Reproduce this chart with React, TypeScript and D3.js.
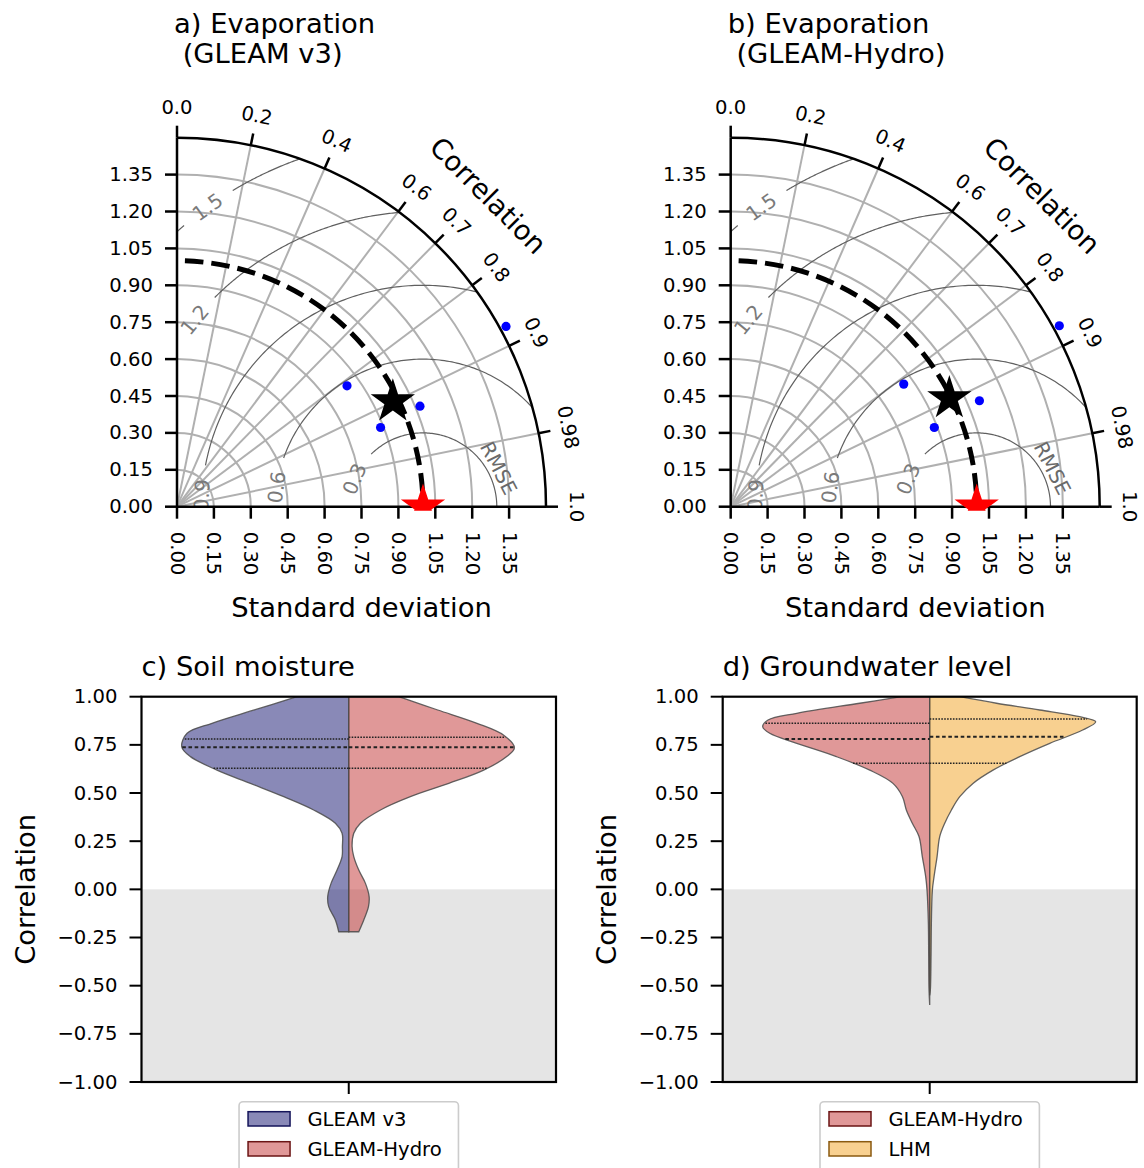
import React, { useEffect } from 'react';
import * as d3 from 'd3';

// ---------------- DATA ----------------
// Taylor diagrams (evaporation)
const stdTickValues = [0, 0.15, 0.3, 0.45, 0.6, 0.75, 0.9, 1.05, 1.2, 1.35];
const stdTickLabels = ['0.00', '0.15', '0.30', '0.45', '0.60', '0.75', '0.90', '1.05', '1.20', '1.35'];
const corrTickValues = [0.0, 0.2, 0.4, 0.6, 0.7, 0.8, 0.9, 0.98, 1.0];
const corrTickLabels = ['0.0', '0.2', '0.4', '0.6', '0.7', '0.8', '0.9', '0.98', '1.0'];
const corrGridValues = [0.2, 0.4, 0.6, 0.7, 0.8, 0.9, 0.98];
const rmseLevels = [0.3, 0.6, 0.9, 1.2, 1.5];
const rmseLabels = ['0.3', '0.6', '0.9', '1.2', '1.5'];
const maxStd = 1.5;
const refStd = 1.0;

const gleamV3Std = [1.525, 0.848, 1.069, 0.888];
const gleamV3Corr = [0.877, 0.815, 0.924, 0.932];
const gleamV3MeanStd = 0.976;
const gleamV3MeanCorr = 0.899;

const gleamHydroStd = [1.525, 0.862, 1.099, 0.888];
const gleamHydroCorr = [0.876, 0.816, 0.92, 0.932];
const gleamHydroMeanStd = 0.992;
const gleamHydroMeanCorr = 0.896;

// Violin plots
const violinTickValues = [1, 0.75, 0.5, 0.25, 0, -0.25, -0.5, -0.75, -1];
const violinTickLabels = ['1.00', '0.75', '0.50', '0.25', '0.00', '\u22120.25', '\u22120.50', '\u22120.75', '\u22121.00'];

const smV3Values = [1.0, 0.931, 0.862, 0.81, 0.74, 0.689, 0.619, 0.55, 0.481, 0.412, 0.343, 0.291, 0.222, 0.17, 0.1, 0.031, -0.038, -0.09, -0.159, -0.22];
const smV3Density = [0.31, 0.565, 0.819, 0.968, 1.0, 0.948, 0.789, 0.589, 0.389, 0.21, 0.08, 0.04, 0.038, 0.04, 0.07, 0.106, 0.126, 0.12, 0.08, 0.06];
const smV3Quartiles = [0.628, 0.737, 0.78];

const smHydroValues = [1.0, 0.931, 0.862, 0.8, 0.735, 0.689, 0.619, 0.55, 0.481, 0.412, 0.343, 0.291, 0.222, 0.17, 0.1, 0.031, -0.038, -0.09, -0.159, -0.22];
const smHydroDensity = [0.3, 0.533, 0.768, 0.928, 0.992, 0.946, 0.808, 0.599, 0.369, 0.19, 0.07, 0.03, 0.02, 0.03, 0.06, 0.1, 0.122, 0.118, 0.09, 0.06];
const smHydroQuartiles = [0.628, 0.737, 0.789];

const gwHydroValues = [1.0, 0.966, 0.914, 0.879, 0.844, 0.81, 0.758, 0.689, 0.619, 0.55, 0.481, 0.412, 0.343, 0.274, 0.169, 0.066, -0.004, -0.176, -0.35, -0.522, -0.6];
const gwHydroDensity = [0.17, 0.419, 0.796, 0.968, 1.0, 0.958, 0.796, 0.559, 0.359, 0.22, 0.163, 0.14, 0.104, 0.064, 0.044, 0.024, 0.016, 0.008, 0.006, 0.004, 0.0];
const gwHydroQuartiles = [0.654, 0.78, 0.862];

const gwLhmValues = [1.0, 0.966, 0.931, 0.896, 0.87, 0.827, 0.758, 0.689, 0.619, 0.55, 0.481, 0.412, 0.343, 0.274, 0.169, 0.066, -0.004, -0.176, -0.35, -0.522, -0.55];
const gwLhmDensity = [0.18, 0.4, 0.659, 0.898, 0.994, 0.916, 0.719, 0.539, 0.379, 0.259, 0.18, 0.13, 0.09, 0.06, 0.044, 0.026, 0.016, 0.01, 0.008, 0.004, 0.0];
const gwLhmQuartiles = [0.654, 0.792, 0.884];

// ---------------- LAYOUT / STYLE ----------------
const FONT = '"DejaVu Sans", Verdana, sans-serif';
const W = 1144;
const H = 1168;
const TICK_FS = 19.6;
const LABEL_FS = 27.4;
const rmseLabelPhiDeg = [157.9, 172.4, 177, 140.7, 125.7];

function starPath(R: number): string {
  return d3.symbol(d3.symbolStar, (R * R) / 0.8908130915292852)() as string;
}

type TaylorProps = {
  id: string;
  ox: number;
  oy: number;
  titleX: number;
  title1: string;
  title2: string;
  stds: number[];
  corrs: number[];
  meanStd: number;
  meanCorr: number;
};

function TaylorPanel(p: TaylorProps) {
  const { id, ox, oy } = p;
  const R = 369;
  const rs = d3.scaleLinear().domain([0, maxStd]).range([0, R]);
  const toXY = (x: number, y: number): [number, number] => [ox + rs(x), oy - rs(y)];
  const polar = (s: number, c: number): [number, number] => {
    const th = Math.acos(c);
    return toXY(s * Math.cos(th), s * Math.sin(th));
  };
  const line = d3.line();

  const stdArcs = stdTickValues.filter((v) => v > 0).map((v) => {
    const pth = d3.path();
    const rr = rs(v);
    pth.moveTo(ox, oy - rr);
    pth.arc(ox, oy, rr, -Math.PI / 2, 0);
    return pth.toString();
  });
  const outer = d3.path();
  outer.moveTo(ox, oy - R);
  outer.arc(ox, oy, R, -Math.PI / 2, 0);
  const refArc = d3.path();
  refArc.moveTo(ox, oy - rs(refStd));
  refArc.arc(ox, oy, rs(refStd), -Math.PI / 2, 0);

  const radial = corrGridValues.map((c) => line([[ox, oy], polar(maxStd, c)]) as string);

  const contourSegs: string[] = [];
  const contourLabels: { x: number; y: number; a: number; t: string }[] = [];
  const normAng = (a: number) => {
    let b = a;
    while (b > 90) b -= 180;
    while (b <= -90) b += 180;
    return b;
  };
  const tangentAng = (phi: number) => normAng((Math.atan2(-Math.cos(phi), -Math.sin(phi)) * 180) / Math.PI);
  rmseLevels.forEach((rho, i) => {
    const phiMin = Math.acos(Math.max(-1, Math.min(1, (maxStd * maxStd - refStd * refStd - rho * rho) / (2 * refStd * rho))));
    const phiMax = Math.acos(Math.max(-1, Math.min(1, -refStd / rho)));
    const phiL = (rmseLabelPhiDeg[i] * Math.PI) / 180;
    const gap = 30 / rs(rho);
    const ranges: [number, number][] = [
      [phiMin, Math.min(phiMax, phiL - gap)],
      [Math.max(phiMin, phiL + gap), phiMax],
    ];
    ranges.forEach(([a, b]) => {
      if (b - a <= 0.002) return;
      const pts = d3.range(0, 121).map((k) => {
        const f = a + ((b - a) * k) / 120;
        return toXY(refStd + rho * Math.cos(f), rho * Math.sin(f));
      });
      contourSegs.push(line(pts) as string);
    });
    const [lx, ly] = toXY(refStd + rho * Math.cos(phiL), rho * Math.sin(phiL));
    contourLabels.push({ x: lx, y: ly, a: tangentAng(phiL), t: rmseLabels[i] });
  });
  const rmseTitlePhi = (27 * Math.PI) / 180;
  const rmseTitleRho = 0.345;
  const [rtx, rty] = toXY(refStd + rmseTitleRho * Math.cos(rmseTitlePhi), rmseTitleRho * Math.sin(rmseTitlePhi));

  const star = starPath(23.3);
  const [mx, my] = polar(p.meanStd, p.meanCorr);
  const [refx, refy] = toXY(refStd, 0);
  const clipId = `quarter-${id}`;
  const clipStar = `starclip-${id}`;
  const disc = d3.path();
  disc.moveTo(ox, oy);
  disc.lineTo(ox, oy - R);
  disc.arc(ox, oy, R, -Math.PI / 2, 0);
  disc.closePath();

  return (
    <g>
      <defs>
        <clipPath id={clipId}>
          <path d={disc.toString()} />
        </clipPath>
        <clipPath id={clipStar}>
          <rect x={ox - 20} y={oy - R - 50} width={R + 100} height={R + 54} />
        </clipPath>
      </defs>
      <text x={p.titleX} y={33} fontSize={LABEL_FS} fontFamily={FONT} fill="#000">{p.title1}</text>
      <text x={p.titleX + 8.7} y={63} fontSize={LABEL_FS} fontFamily={FONT} fill="#000">{p.title2}</text>

      {/* grid */}
      <g fill="none" stroke="#b0b0b0" strokeWidth={2}>
        {stdArcs.map((d, i) => <path key={i} d={d} />)}
        {radial.map((d, i) => <path key={i} d={d} />)}
      </g>

      {/* RMSE contours */}
      <g clipPath={`url(#${clipId})`}>
        <g fill="none" stroke="#606060" strokeWidth={1.2}>
          {contourSegs.map((d, i) => <path key={i} d={d} />)}
        </g>
        {contourLabels.map((l, i) => (
          <text key={i} x={l.x} y={l.y} transform={`rotate(${l.a},${l.x},${l.y})`} fontSize={20} fontFamily={FONT}
            fill="#7a7a7a" textAnchor="middle" dominantBaseline="central">{l.t}</text>
        ))}
      </g>
      <text x={rtx} y={rty} transform={`rotate(63,${rtx},${rty})`} fontSize={20} fontFamily={FONT} fill="#6a6a6a"
        textAnchor="middle" dominantBaseline="central">RMSE</text>

      {/* reference std dashed arc */}
      <path d={refArc.toString()} fill="none" stroke="#000" strokeWidth={5} strokeDasharray="18.5 8" strokeDashoffset={18.5} />

      {/* axes */}
      <g stroke="#000" fill="none" strokeWidth={2.5}>
        <path d={outer.toString()} />
        <line x1={ox} y1={oy} x2={ox} y2={oy - R} />
        <line x1={ox} y1={oy} x2={ox + R} y2={oy} />
        {stdTickValues.map((v, i) => (
          <g key={i}>
            <line x1={ox + rs(v)} y1={oy} x2={ox + rs(v)} y2={oy + 12} />
            <line x1={ox} y1={oy - rs(v)} x2={ox - 12} y2={oy - rs(v)} />
          </g>
        ))}
        {corrTickValues.map((c, i) => {
          const th = Math.acos(c);
          return (
            <line key={i} x1={ox + R * Math.cos(th)} y1={oy - R * Math.sin(th)} x2={ox + (R + 12) * Math.cos(th)} y2={oy - (R + 12) * Math.sin(th)} />
          );
        })}
      </g>
      {stdTickValues.map((v, i) => (
        <g key={i}>
          <text x={ox - 24} y={oy - rs(v)} fontSize={TICK_FS} fontFamily={FONT} textAnchor="end" dominantBaseline="central">{stdTickLabels[i]}</text>
          <text x={ox + rs(v)} y={oy + 25} transform={`rotate(90,${ox + rs(v)},${oy + 25})`} fontSize={TICK_FS} fontFamily={FONT}
            textAnchor="start" dominantBaseline="central">{stdTickLabels[i]}</text>
        </g>
      ))}
      {corrTickValues.map((c, i) => {
        const th = Math.acos(c);
        const lx = ox + (R + 30) * Math.cos(th);
        const ly = oy - (R + 30) * Math.sin(th);
        const rot = 90 - (th * 180) / Math.PI;
        return (
          <text key={i} x={lx} y={ly} transform={`rotate(${rot},${lx},${ly})`} fontSize={TICK_FS} fontFamily={FONT}
            textAnchor="middle" dominantBaseline="central">{corrTickLabels[i]}</text>
        );
      })}
      {(() => {
        const th = Math.PI / 4;
        const lx = ox + 440 * Math.cos(th);
        const ly = oy - 440 * Math.sin(th);
        return (
          <text x={lx} y={ly} transform={`rotate(45,${lx},${ly})`} fontSize={LABEL_FS} fontFamily={FONT} textAnchor="middle"
            dominantBaseline="central">Correlation</text>
        );
      })()}
      <text x={ox + R / 2} y={616.5} fontSize={LABEL_FS} fontFamily={FONT} textAnchor="middle">Standard deviation</text>

      {/* markers */}
      {p.stds.map((s, i) => {
        const [x, y] = polar(s, p.corrs[i]);
        return <circle key={i} cx={x} cy={y} r={4.6} fill="#0000ff" />;
      })}
      <path d={star} transform={`translate(${mx},${my})`} fill="#000" />
      <g clipPath={`url(#${clipStar})`}>
        <path d={star} transform={`translate(${refx},${refy})`} fill="#ff0000" />
      </g>
    </g>
  );
}

type ViolinProps = {
  id: string;
  x0: number;
  x1: number;
  title: string;
  leftVals: number[];
  leftDens: number[];
  leftQ: number[];
  rightVals: number[];
  rightDens: number[];
  rightQ: number[];
  leftFill: string;
  rightFill: string;
  leftEdge: string;
  rightEdge: string;
  leftName: string;
  rightName: string;
};

function ViolinPanel(p: ViolinProps) {
  const yTop = 696.7;
  const yBot = 1082;
  const { x0, x1 } = p;
  const cx = (x0 + x1) / 2;
  const y = d3.scaleLinear().domain([-1, 1]).range([yBot, yTop]);
  const w = d3.scaleLinear().domain([0, 1]).range([0, 167]);
  const lData = d3.zip(p.leftVals, p.leftDens) as [number, number][];
  const rData = d3.zip(p.rightVals, p.rightDens) as [number, number][];
  const areaL = d3.area<[number, number]>().curve(d3.curveCatmullRom.alpha(0.5)).y((d) => y(d[0])).x0(cx).x1((d) => cx - w(d[1]));
  const areaR = d3.area<[number, number]>().curve(d3.curveCatmullRom.alpha(0.5)).y((d) => y(d[0])).x0(cx).x1((d) => cx + w(d[1]));
  const interpL = d3.scaleLinear().domain(p.leftVals).range(p.leftDens);
  const interpR = d3.scaleLinear().domain(p.rightVals).range(p.rightDens);
  const clip = `vclip-${p.id}`;
  const legW = 219.4;
  const legX = cx - legW / 2;
  const legY = 1101.7;
  const qStyle = (i: number) => (i === 1 ? { dash: '3.6 2.6', sw: 2 } : { dash: '1.6 1.3', sw: 1.5 });
  return (
    <g>
      <defs>
        <clipPath id={clip}>
          <rect x={x0} y={yTop} width={x1 - x0} height={yBot - yTop} />
        </clipPath>
      </defs>
      <text x={x0} y={676} fontSize={LABEL_FS} fontFamily={FONT}>{p.title}</text>
      <rect x={x0} y={y(0)} width={x1 - x0} height={y(-1) - y(0)} fill="#e5e5e5" />
      <g clipPath={`url(#${clip})`}>
        <path d={areaL(lData) as string} fill={p.leftFill} fillOpacity={0.5} stroke="#4a4a4a" strokeOpacity={0.85} strokeWidth={1.3} />
        <path d={areaR(rData) as string} fill={p.rightFill} fillOpacity={0.5} stroke="#4a4a4a" strokeOpacity={0.85} strokeWidth={1.3} />
        {p.leftQ.map((q, i) => (
          <line key={`l${i}`} x1={cx - w(interpL(q))} x2={cx} y1={y(q)} y2={y(q)} stroke="#222" strokeWidth={qStyle(i).sw}
            strokeDasharray={qStyle(i).dash} />
        ))}
        {p.rightQ.map((q, i) => (
          <line key={`r${i}`} x1={cx} x2={cx + w(interpR(q))} y1={y(q)} y2={y(q)} stroke="#222" strokeWidth={qStyle(i).sw}
            strokeDasharray={qStyle(i).dash} />
        ))}
      </g>
      <rect x={x0} y={yTop} width={x1 - x0} height={yBot - yTop} fill="none" stroke="#000" strokeWidth={2.2} />
      {violinTickValues.map((v, i) => (
        <g key={i}>
          <line x1={x0} x2={x0 - 12} y1={y(v)} y2={y(v)} stroke="#000" strokeWidth={2} />
          <text x={x0 - 24} y={y(v)} fontSize={TICK_FS} fontFamily={FONT} textAnchor="end" dominantBaseline="central">{violinTickLabels[i]}</text>
        </g>
      ))}
      <line x1={cx} x2={cx} y1={yBot} y2={yBot + 12} stroke="#000" strokeWidth={2} />
      <text x={x0 - 106.5} y={(yTop + yBot) / 2} transform={`rotate(-90,${x0 - 106.5},${(yTop + yBot) / 2})`} fontSize={LABEL_FS}
        fontFamily={FONT} textAnchor="middle">Correlation</text>

      {/* legend */}
      <rect x={legX} y={legY} width={legW} height={80} rx={4} fill="#fff" fillOpacity={0.8} stroke="#cccccc" strokeWidth={1.6} />
      <rect x={legX + 9} y={legY + 10} width={42} height={14.3} fill={p.leftFill} fillOpacity={0.5} stroke={p.leftEdge} strokeWidth={1.5} />
      <rect x={legX + 9} y={legY + 40} width={42} height={14.3} fill={p.rightFill} fillOpacity={0.5} stroke={p.rightEdge} strokeWidth={1.5} />
      <text x={legX + 68.4} y={legY + 24.3} fontSize={TICK_FS} fontFamily={FONT}>{p.leftName}</text>
      <text x={legX + 68.4} y={legY + 54.3} fontSize={TICK_FS} fontFamily={FONT}>{p.rightName}</text>
    </g>
  );
}

export default function App() {
  useEffect(() => {
    document.body.style.margin = '0';
  }, []);
  return (
    <svg width={W} height={H} viewBox={`0 0 ${W} ${H}`} style={{ position: 'absolute', left: 0, top: 0, background: '#fff' }}
      xmlns="http://www.w3.org/2000/svg">
      <rect x={0} y={0} width={W} height={H} fill="#fff" />
      <TaylorPanel id="a" ox={177} oy={506.7} titleX={174} title1="a) Evaporation" title2="(GLEAM v3)" stds={gleamV3Std}
        corrs={gleamV3Corr} meanStd={gleamV3MeanStd} meanCorr={gleamV3MeanCorr} />
      <TaylorPanel id="b" ox={730.7} oy={506.7} titleX={727.7} title1="b) Evaporation" title2="(GLEAM-Hydro)" stds={gleamHydroStd}
        corrs={gleamHydroCorr} meanStd={gleamHydroMeanStd} meanCorr={gleamHydroMeanCorr} />
      <ViolinPanel id="c" x0={141.5} x1={556} title="c) Soil moisture" leftVals={smV3Values} leftDens={smV3Density} leftQ={smV3Quartiles}
        rightVals={smHydroValues} rightDens={smHydroDensity} rightQ={smHydroQuartiles} leftFill="rgb(20,20,112)" rightFill="rgb(193,49,49)"
        leftEdge="#15155a" rightEdge="#6b1515" leftName="GLEAM v3" rightName="GLEAM-Hydro" />
      <ViolinPanel id="d" x0={722.7} x1={1136.7} title="d) Groundwater level" leftVals={gwHydroValues} leftDens={gwHydroDensity}
        leftQ={gwHydroQuartiles} rightVals={gwLhmValues} rightDens={gwLhmDensity} rightQ={gwLhmQuartiles} leftFill="rgb(193,49,49)"
        rightFill="rgb(241,161,33)" leftEdge="#6b1515" rightEdge="#8a5a10" leftName="GLEAM-Hydro" rightName="LHM" />
    </svg>
  );
}
